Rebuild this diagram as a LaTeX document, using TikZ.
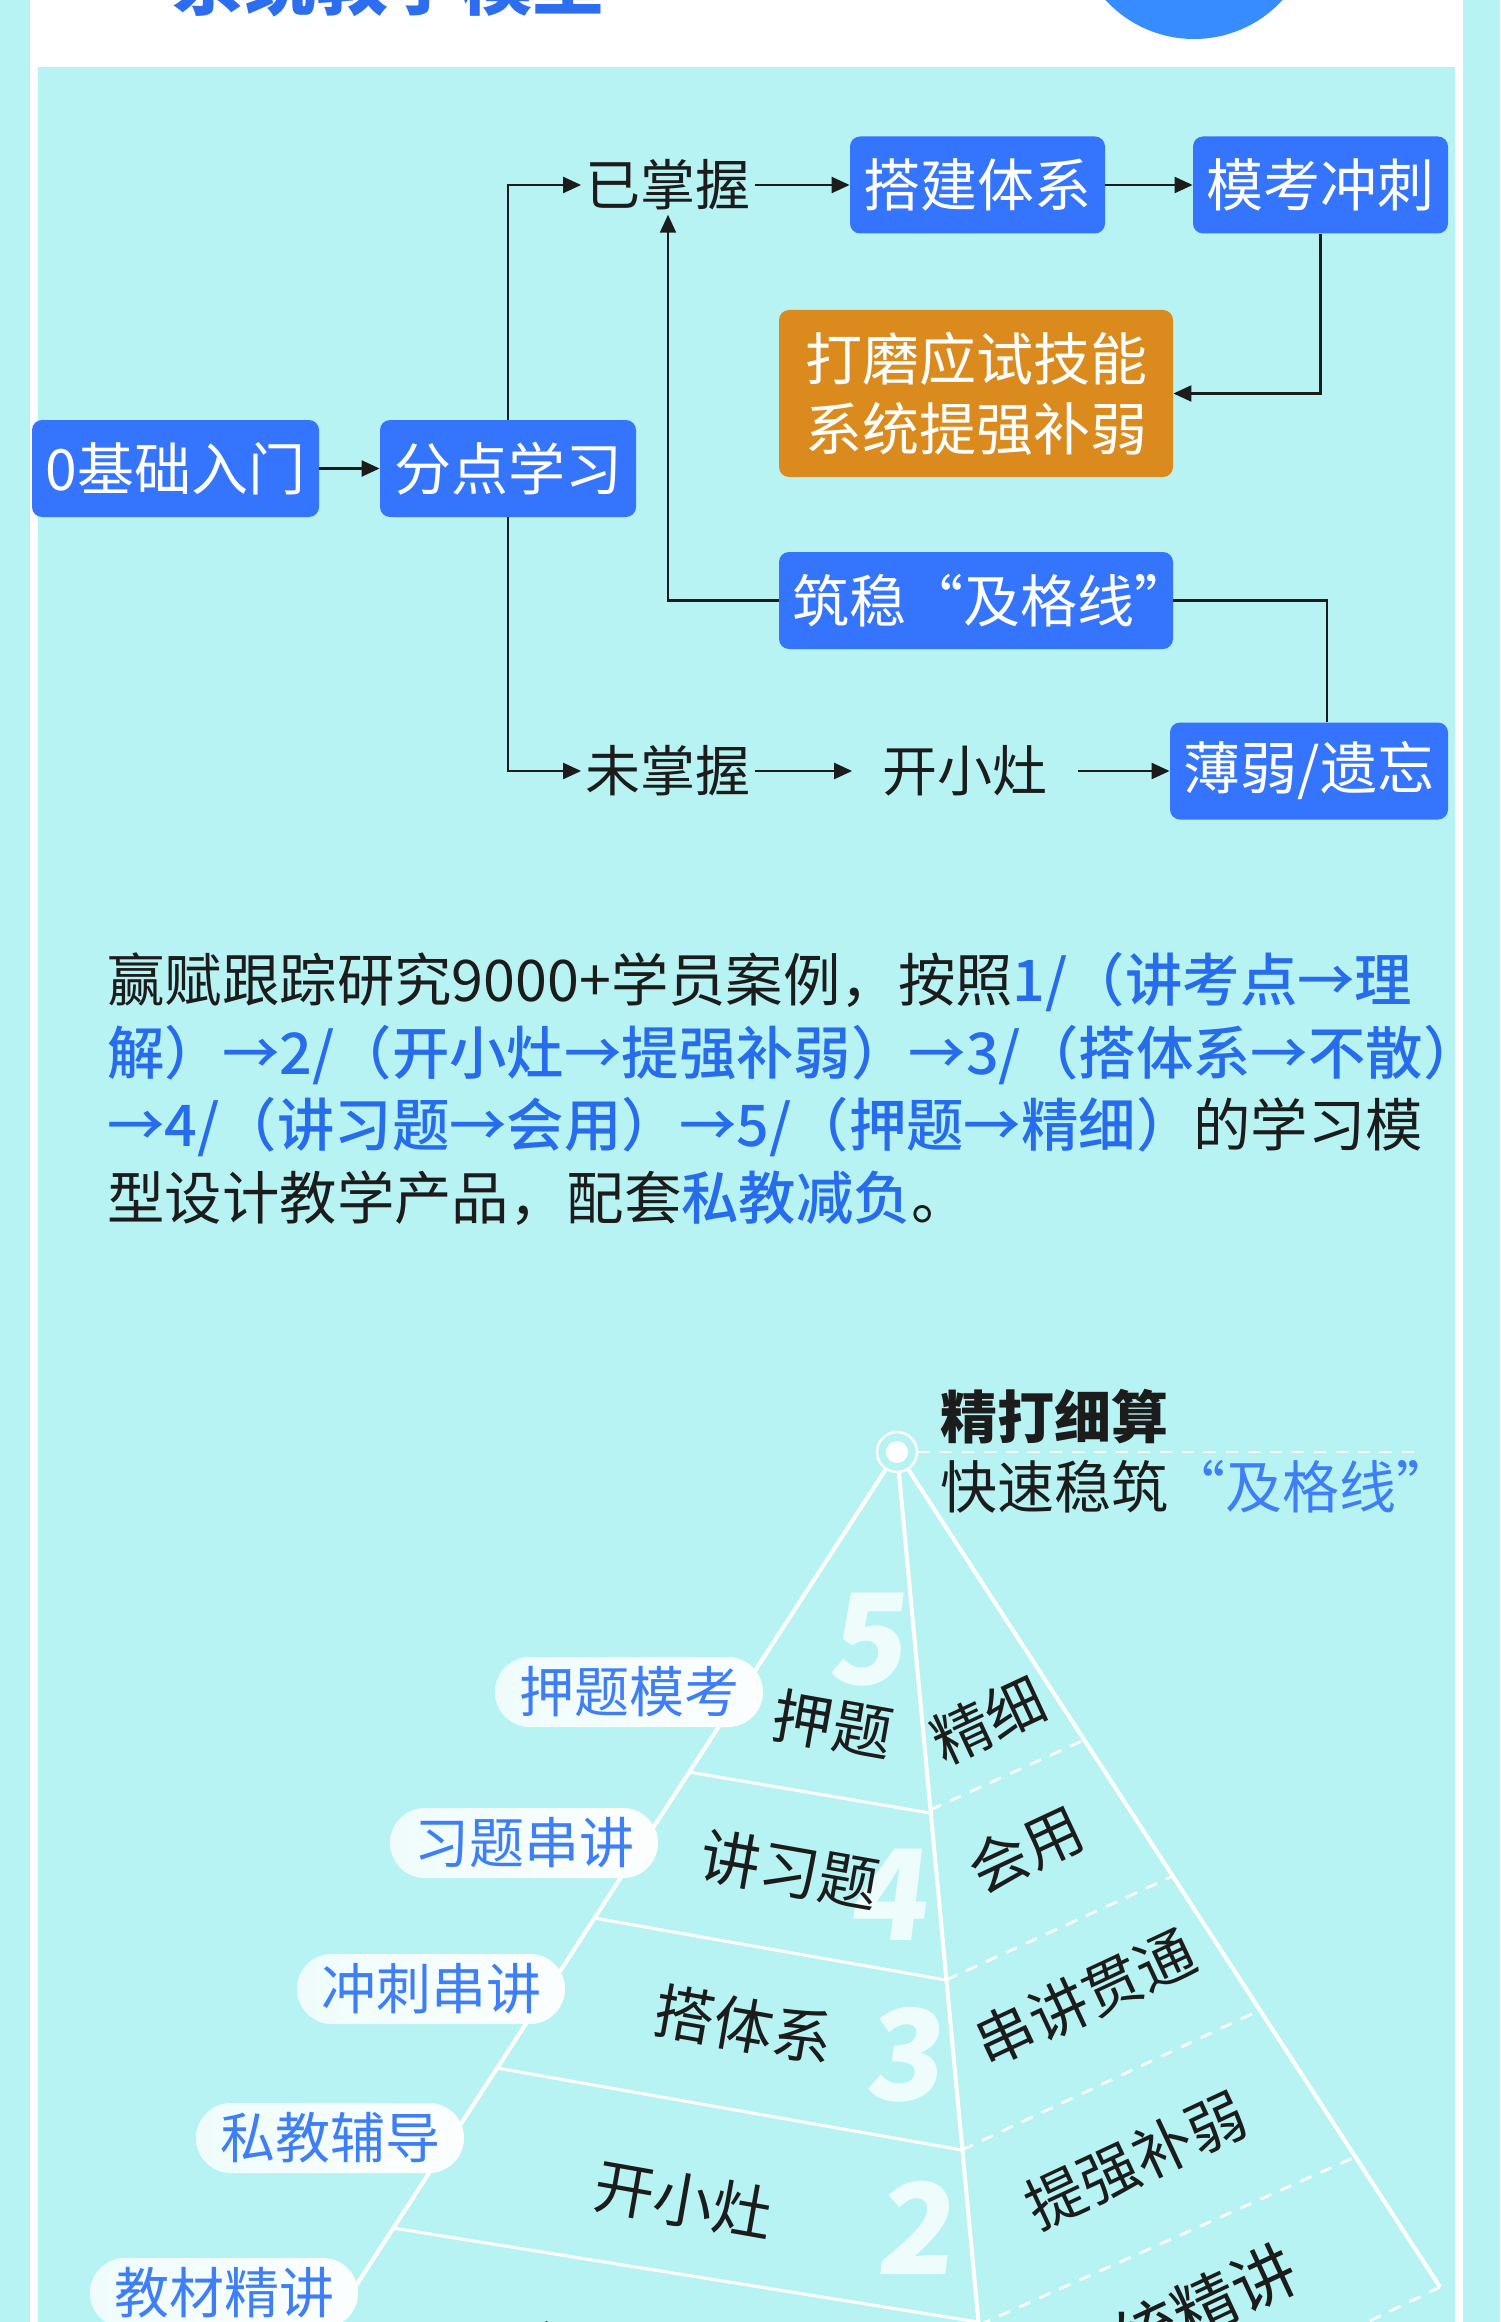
\documentclass[tikz,border=0pt]{standalone}
\usepackage{fontspec}
\setmainfont{Noto Sans CJK SC}
\newfontfamily\medfont{Noto Sans CJK SC Medium}
\newfontfamily\numfont[FakeSlant=0.12]{Noto Sans CJK SC}
\usepackage{xcolor}
\usepackage{tikz}
\usetikzlibrary{positioning,arrows.meta,calc}
\definecolor{bgcyan}{RGB}{184,243,243}
\definecolor{boxblue}{RGB}{53,117,253}
\definecolor{boxorange}{RGB}{219,139,29}
\definecolor{txtblue}{RGB}{38,108,236}
\definecolor{pillblue}{RGB}{62,126,246}
\definecolor{inkdark}{RGB}{28,28,28}
\definecolor{titleblue}{RGB}{45,110,240}
\definecolor{dotblue}{RGB}{55,140,255}
\newcommand{\bluerun}[1]{{\color{txtblue}\medfont #1}}
\tikzset{
  heading/.style={font=\bfseries\fontsize{36}{36}\selectfont, text=titleblue,
                  anchor=base west, inner sep=0pt},
  flowbox/.style={rectangle, fill=boxblue, rounded corners=5pt, text=white,
                  font=\fontsize{28.5}{34}\selectfont, minimum height=48.5pt, inner sep=0pt},
  skillbox/.style={flowbox, fill=boxorange, align=center, minimum width=197pt,
                   minimum height=83.5pt, font=\fontsize{28.5}{35}\selectfont},
  flowtxt/.style={font=\fontsize{27.5}{33}\selectfont, text=inkdark, inner sep=2pt},
  arr/.style={-{Triangle[length=9pt,width=8pt]}, line width=1.1pt, inkdark},
  link/.style={line width=1.1pt, inkdark},
  para/.style={align=left, inner sep=0pt, text=inkdark,
               font=\fontsize{28.7}{36.25}\selectfont},
  ridge/.style={white, line width=2pt},
  tier/.style={white, line width=1.5pt},
  tierdash/.style={white, line width=1.3pt, dash pattern=on 6pt off 5pt},
  apexring/.style={circle, draw=white, line width=1.2pt, minimum size=20pt, inner sep=0pt},
  apexdot/.style={circle, fill=white, minimum size=11pt, inner sep=0pt},
  motto/.style={font=\bfseries\fontsize{28.5}{30}\selectfont, text=inkdark,
                anchor=west, inner sep=0pt},
  goal/.style={font=\fontsize{28.5}{30}\selectfont, text=inkdark, anchor=west, inner sep=0pt},
  pill/.style={rounded corners=17.5pt, left color=white!78!bgcyan, right color=white!96!bgcyan,
               text=pillblue, minimum width=134pt, minimum height=35pt, inner sep=0pt,
               font=\fontsize{27.5}{30}\selectfont},
  leftlbl/.style={font=\fontsize{30}{32}\selectfont, text=inkdark, rotate=-10, inner sep=0pt},
  rightlbl/.style={font=\fontsize{29.5}{32}\selectfont, text=inkdark, rotate=25, inner sep=0pt},
  tiernum/.style={font=\numfont\bfseries\fontsize{63}{63}\selectfont, text=white,
                  text opacity=0.78, inner sep=0pt}
}
\begin{document}
\begin{tikzpicture}[x=0.5pt, y=-0.5pt]
\useasboundingbox (0,0) rectangle (1500,2322);
\clip (0,0) rectangle (1500,2322);
\fill[bgcyan] (0,0) rectangle (1500,2322);
\fill[white] (30,0) rectangle (1463,2322);
\fill[bgcyan] (38,67) rectangle (1455,2322);
\fill[dotblue] (1194,-81) circle[radius=60pt];
\node[heading] (title) at (172,10) {系统教学模型};

\node[flowbox, minimum width=143.5pt] (zero) at (175.5,468.5) {0基础入门};
\node[flowbox, minimum width=128pt] (split) at (508,468.5) {分点学习};
\node[flowtxt] (known) at (668,185) {已掌握};
\node[flowbox, minimum width=127.5pt] (frame) at (977.5,185) {搭建体系};
\node[flowbox, minimum width=127.5pt] (mock) at (1320.5,185) {模考冲刺};
\node[skillbox] (skill) at (976,393.5) {打磨应试技能\\系统提强补弱};
\node[flowbox, minimum width=197pt] (pass) at (976,600.5) {筑稳“及格线”\kern-0.55em};
\node[flowtxt] (unknown) at (668,771) {未掌握};
\node[flowtxt, inner xsep=15pt] (stove) at (965,771) {开小灶};
\node[flowbox, minimum width=139pt] (weak) at (1309,771) {薄弱/遗忘};

\draw[arr] (zero) -- (split);
\draw[arr] (split.north) |- (known.west);
\draw[arr] (known) -- (frame);
\draw[arr] (frame) -- (mock);
\draw[arr] (mock.south) |- (skill.east);
\draw[arr] (split.south) |- (unknown.west);
\draw[arr] (unknown) -- (stove);
\draw[arr] (stove) -- (weak);
\draw[link] ($(weak.north)+(18,0)$) |- (pass.east);
\draw[arr] (pass.west) -| (known.south);

\node[para, anchor=north west] (note) at (107,952) {赢赋跟踪研究9000+学员案例，按照\bluerun{1/（讲考点→理}\\
\bluerun{解）→2/（开小灶→提强补弱）→3/（搭体系→不散）}\\
\bluerun{→4/（讲习题→会用）→5/（押题→精细）}的学习模\\
型设计教学产品，配套\bluerun{私教减负}。};

\node[apexring] (apex) at (897,1452) {};
\node[apexdot] (apexdot) at (apex) {};
\node[motto] (slogan) at (940,1417) {精打细算};
\node[goal] (target) at (940,1487) {快速稳筑\textcolor{pillblue}{“及格线”}};
\draw[tierdash] (apex.east) -- (1414,1452);

\coordinate (lefttoe) at (322,2338);
\coordinate (midtoe) at (980,2338);
\coordinate (corner) at (1440,2287);
\draw[ridge] (apex) -- (lefttoe);
\draw[ridge] (apex) -- (midtoe);
\draw[ridge] (apex) -- (corner);
\draw[tierdash] (corner) -- (1320,2345);

\draw[tier] (689,1772) -- (930,1813);
\draw[tier] (594,1918) -- (946,1980);
\draw[tier] (497,2068) -- (962,2150);
\draw[tier] (393,2228) -- (978,2322);
\draw[tierdash] (930,1810) -- (1084,1740);
\draw[tierdash] (946,1980) -- (1173,1876);
\draw[tierdash] (962,2150) -- (1260,2010);
\draw[tierdash] (979,2325) -- (1355,2157);

\node[tiernum] (n5) at (866,1640) {5};
\node[tiernum] (n4) at (887,1895) {4};
\node[tiernum] (n3) at (903,2055) {3};
\node[tiernum] (n2) at (914,2228) {2};

\node[leftlbl] (l5) at (833,1724) {押题};
\node[leftlbl] (l4) at (790,1870) {讲习题};
\node[leftlbl] (l3) at (744,2025) {搭体系};
\node[leftlbl] (l2) at (684,2200) {开小灶};
\node[leftlbl] (l1) at (622,2362) {讲考点};

\node[rightlbl] (r5) at (988,1720) {精细};
\node[rightlbl] (r4) at (1026,1849) {会用};
\node[rightlbl] (r3) at (1085,1997) {串讲贯通};
\node[rightlbl] (r2) at (1136,2160) {提强补弱};
\node[rightlbl, font=\fontsize{32}{34}\selectfont] (r1) at (1176,2318) {系统精讲};

\node[pill] (p5) at (629,1692) {押题模考};
\node[pill] (p4) at (524,1843) {习题串讲};
\node[pill] (p3) at (431,1989) {冲刺串讲};
\node[pill] (p2) at (330,2138) {私教辅导};
\node[pill] (p1) at (224,2293) {教材精讲};
\end{tikzpicture}
\end{document}
